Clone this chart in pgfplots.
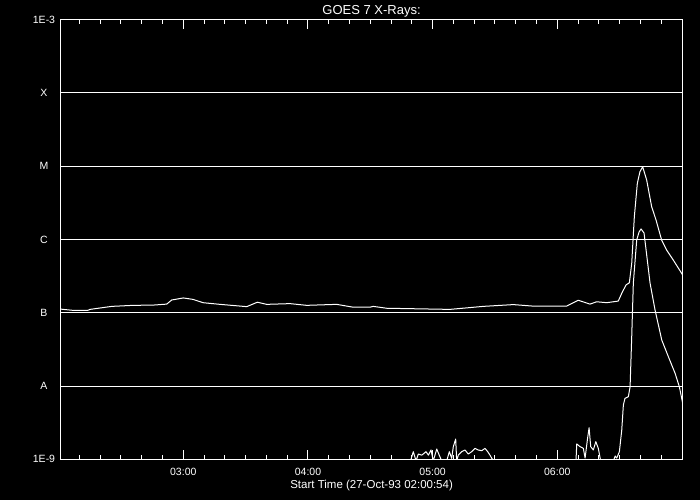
\documentclass[border=0pt]{standalone}
\usepackage{pgfplots}
\pgfplotsset{compat=1.18}
\usepackage{pgfplotstable}
\usepackage{fontspec}
\setmainfont{Liberation Sans}

\pgfplotstableread{
h v
0.015 1.12e-7
0.107 1.08e-7
0.236 1.08e-7
0.252 1.11e-7
0.426 1.22e-7
0.597 1.26e-7
0.757 1.27e-7
0.867 1.31e-7
0.907 1.49e-7
1.000 1.59e-7
1.078 1.52e-7
1.158 1.37e-7
1.294 1.30e-7
1.509 1.21e-7
1.594 1.39e-7
1.669 1.30e-7
1.856 1.33e-7
1.990 1.26e-7
2.230 1.30e-7
2.361 1.19e-7
2.498 1.19e-7
2.524 1.22e-7
2.632 1.15e-7
3.139 1.11e-7
3.406 1.22e-7
3.647 1.29e-7
3.807 1.23e-7
4.075 1.23e-7
4.168 1.48e-7
4.262 1.31e-7
4.316 1.41e-7
4.396 1.37e-7
4.489 1.44e-7
4.517 1.84e-7
4.551 2.39e-7
4.578 2.56e-7
4.597 4.72e-7
4.618 2.04e-6
4.642 5.82e-6
4.663 8.39e-6
4.685 9.8e-6
4.717 6.45e-6
4.757 2.79e-6
4.792 1.84e-6
4.837 9.8e-7
4.877 7.16e-7
4.930 5.24e-7
5.006 3.27e-7
}\longch

\pgfplotstableread{
h v
0.015 9e-10
2.818 9e-10
2.845 1.27e-9
2.867 9.5e-10
2.885 1.18e-9
2.913 1.14e-9
2.947 1.27e-9
2.966 1.14e-9
2.987 1.34e-9
3.005 9.5e-10
3.033 1.38e-9
3.053 1.14e-9
3.073 9.5e-10
3.113 9.5e-10
3.134 1.27e-9
3.153 1.03e-9
3.166 1.49e-9
3.185 1.89e-9
3.193 9.5e-10
3.206 1.14e-9
3.233 1.27e-9
3.260 1.34e-9
3.286 1.18e-9
3.313 1.27e-9
3.340 1.41e-9
3.366 1.34e-9
3.394 1.31e-9
3.420 1.41e-9
3.442 1.27e-9
3.460 1.14e-9
3.487 9.5e-10
4.150 9.5e-10
4.156 1.62e-9
4.182 1.49e-9
4.209 1.41e-9
4.223 1.04e-9
4.241 1.83e-9
4.255 2.70e-9
4.268 1.49e-9
4.289 1.34e-9
4.309 1.74e-9
4.329 1.41e-9
4.348 9.5e-10
4.450 9.5e-10
4.464 1.11e-9
4.477 1.04e-9
4.498 1.27e-9
4.517 2.51e-9
4.530 5.51e-9
4.543 6.79e-9
4.570 7.14e-9
4.584 9.78e-9
4.597 4.71e-8
4.610 2.54e-7
4.637 9.82e-7
4.656 1.26e-6
4.672 1.39e-6
4.696 1.22e-6
4.744 2.54e-7
4.784 1.09e-7
4.838 4.24e-8
4.891 2.51e-8
4.945 1.49e-8
4.979 9.78e-9
5.006 5.81e-9
}\shortch

\begin{document}
\begin{tikzpicture}
\fill[black] (-60.5pt,-40.7pt) rectangle (639.5pt,459.3pt);
\begin{axis}[
  scale only axis,
  width=622.2pt, height=439.8pt,
  xmin=0.015, xmax=5.006,
  ymode=log, ymin=1e-9, ymax=1e-3,
  axis line style={white, line width=1pt},
  xtick={1,2,3,4},
  xticklabels={03:00,04:00,05:00,06:00},
  minor xtick={0.1667,0.3333,0.5,0.6667,0.8333,1.1667,1.3333,1.5,1.6667,1.8333,2.1667,2.3333,2.5,2.6667,2.8333,3.1667,3.3333,3.5,3.6667,3.8333,4.1667,4.3333,4.5,4.6667,4.8333},
  tick align=inside,
  major tick length=9.5pt,
  minor tick length=4.7pt,
  xtick style={white, line width=1pt},
  xtick pos=both,
  xticklabel pos=bottom,
  ytick={1e-9,1e-8,1e-7,1e-6,1e-5,1e-4,1e-3},
  yticklabels={1E-9,A,B,C,M,X,1E-3},
  yminorticks=false,
  ytick style={draw=none},
  ymajorgrids,
  major grid style={white, line width=1pt},
  xticklabel style={text=white, font=\fontsize{10.5}{12}\selectfont, anchor=base, yshift=-16.2pt, inner sep=0pt},
  yticklabel style={text=white, font=\fontsize{10.5}{12}\selectfont, anchor=center, xshift=-16.5pt, inner sep=0pt},
  title={GOES 7 X-Rays:},
  title style={text=white, font=\fontsize{13}{15}\selectfont, at={(0.5,1)}, anchor=base, yshift=-1pt, inner sep=0pt},
  xlabel={Start Time (27-Oct-93 02:00:54)},
  xlabel style={text=white, font=\fontsize{11.5}{14}\selectfont, at={(0.5,0)}, anchor=base, yshift=-29.2pt, inner sep=0pt},
  clip=true,
]
\addplot[white, line width=1pt, line join=round] table[x=h, y=v] {\longch};
\addplot[white, line width=1pt, line join=round] table[x=h, y=v] {\shortch};
\end{axis}
\useasboundingbox (-60.5pt,-40.7pt) rectangle (639.5pt,459.3pt);
\end{tikzpicture}
\end{document}
